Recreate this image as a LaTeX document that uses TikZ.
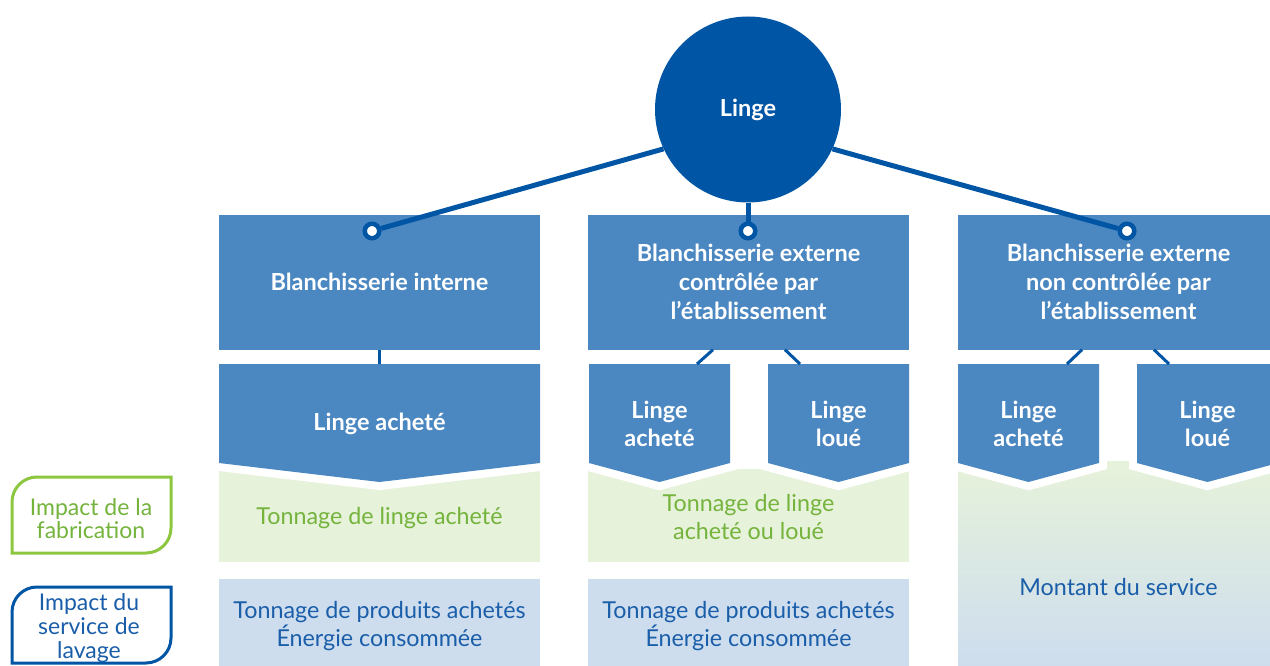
\documentclass[tikz,border=0pt]{standalone}
\usepackage{fontspec}
\setmainfont{Lato}
\usetikzlibrary{positioning}
\definecolor{lingeblue}{HTML}{0055A4}
\definecolor{boxblue}{HTML}{4B87C1}
\definecolor{fabgreen}{HTML}{E7F2DA}
\definecolor{lavblue}{HTML}{CDDDEE}
\definecolor{greentxt}{HTML}{74B33C}
\definecolor{greenline}{HTML}{8DC63F}
\definecolor{bluetxt}{HTML}{1A5EA9}
\tikzset{
    topbox/.style={fill=boxblue, text=white, align=center, inner sep=0,
        minimum width=321, minimum height=134.5,
        font=\bfseries\fontsize{23.5}{29}\selectfont},
    arrowbox/.style={fill=boxblue, preaction={draw=white, line width=16, line join=miter}},
    arrowtext/.style={text=white, align=center, font=\bfseries\fontsize{23.5}{28}\selectfont},
    link/.style={draw=lingeblue, line width=5},
    sublink/.style={draw=lingeblue, line width=3},
    dot/.style={circle, draw=lingeblue, line width=4.5, fill=white, inner sep=0, minimum size=14.5},
    fabtext/.style={text=greentxt, align=center, font=\fontsize{23.3}{28}\selectfont},
    lavtext/.style={text=bluetxt, align=center, font=\fontsize{23.3}{28}\selectfont}
}
\begin{document}
\begin{tikzpicture}[x=1pt, y=-1pt]
        \clip (0,0) rectangle (1270,666);

        % Impact areas
        \fill[fabgreen] (219,467) rectangle (540,562);
        \fill[fabgreen] (588,469) rectangle (909,562);
        \shade[top color=fabgreen, bottom color=lavblue] (958,461) rectangle (1279,666);
        \node[fill=lavblue, minimum width=321, minimum height=94, lavtext] (prodA) at (379.5,626)
            {Tonnage de produits achetés\\Énergie consommée};
        \node[fill=lavblue, minimum width=321, minimum height=94, lavtext] (prodB) at (748.5,626)
            {Tonnage de produits achetés\\Énergie consommée};
        \node[fabtext] (tonA) at (379.5,518) {Tonnage de linge acheté};
        \node[fabtext] (tonB) at (748.5,517) {Tonnage de linge\\acheté ou loué};
        \node[lavtext] (montant) at (1118.5,587) {Montant du service};

        % Top boxes
        \node[topbox] (interne) at (379.5,282.25) {Blanchisserie interne};
        \node[topbox] (ctrl) at (748.5,282.25) {Blanchisserie externe\\contrôlée par\\l’établissement};
        \node[topbox] (nonctrl) at (1118.5,282.25) {Blanchisserie externe\\non contrôlée par\\l’établissement};

        % Arrow boxes
        \path[arrowbox] (219,364) -- (540,364) -- (540,463) -- (379.5,482) -- (219,463) -- cycle;
        \path[arrowbox] (589,364) -- (730,364) -- (730,463) -- (659.5,482) -- (589,463) -- cycle;
        \path[arrowbox] (768,364) -- (909,364) -- (909,463) -- (838.5,482) -- (768,463) -- cycle;
        \path[arrowbox] (958,364) -- (1099,364) -- (1099,463) -- (1028.5,482) -- (958,463) -- cycle;
        \path[arrowbox] (1137,364) -- (1278,364) -- (1278,463) -- (1207.5,482) -- (1137,463) -- cycle;
        \node[arrowtext] (achA) at (379.5,424) {Linge acheté};
        \node[arrowtext] (achB) at (659.5,424) {Linge\\acheté};
        \node[arrowtext] (louC) at (838.5,424) {Linge\\loué};
        \node[arrowtext] (achD) at (1028.5,424) {Linge\\acheté};
        \node[arrowtext] (louE) at (1207.5,424) {Linge\\loué};

        % Connectors to arrow boxes
        \coordinate (topA) at (379.5,364);
        \coordinate (topB) at (697,364);
        \coordinate (topC) at (800,364);
        \coordinate (topD) at (1067,364);
        \coordinate (topE) at (1169,364);
        \draw[sublink] (interne.south) -- (topA);
        \draw[sublink] ([xshift=-35.5]ctrl.south) -- (topB);
        \draw[sublink] ([xshift=36.5]ctrl.south) -- (topC);
        \draw[sublink] ([xshift=-36.5]nonctrl.south) -- (topD);
        \draw[sublink] ([xshift=35.5]nonctrl.south) -- (topE);

        % Root circle
        \node[circle, fill=lingeblue, text=white, minimum size=186, inner sep=0,
            font=\bfseries\fontsize{23.5}{28}\selectfont] (linge) at (748,109.5) {Linge};
        \node[dot] (p1) at (372,231) {};
        \node[dot] (p2) at (748,231) {};
        \node[dot] (p3) at (1127,231) {};
        \draw[link] (linge.205) -- (p1);
        \draw[link] (linge) -- (p2);
        \draw[link] (linge.335) -- (p3);

        % Side labels
        \draw[greenline, line width=3] (12,553) -- (12,502) arc[start angle=180, end angle=270, radius=25]
            -- (171,477) -- (171,528) arc[start angle=0, end angle=90, radius=25] -- cycle;
        \node[fabtext, font=\fontsize{23}{23.5}\selectfont] (fabl) at (91,518.5) {Impact de la\\fabrication};
        \draw[lingeblue, line width=3] (12,663) -- (12,612) arc[start angle=180, end angle=270, radius=25]
            -- (171,587) -- (171,638) arc[start angle=0, end angle=90, radius=25] -- cycle;
        \node[lavtext, font=\fontsize{23}{24}\selectfont] (lavl) at (89,628) {Impact du\\service de\\lavage};

    \end{tikzpicture}
\end{document}
